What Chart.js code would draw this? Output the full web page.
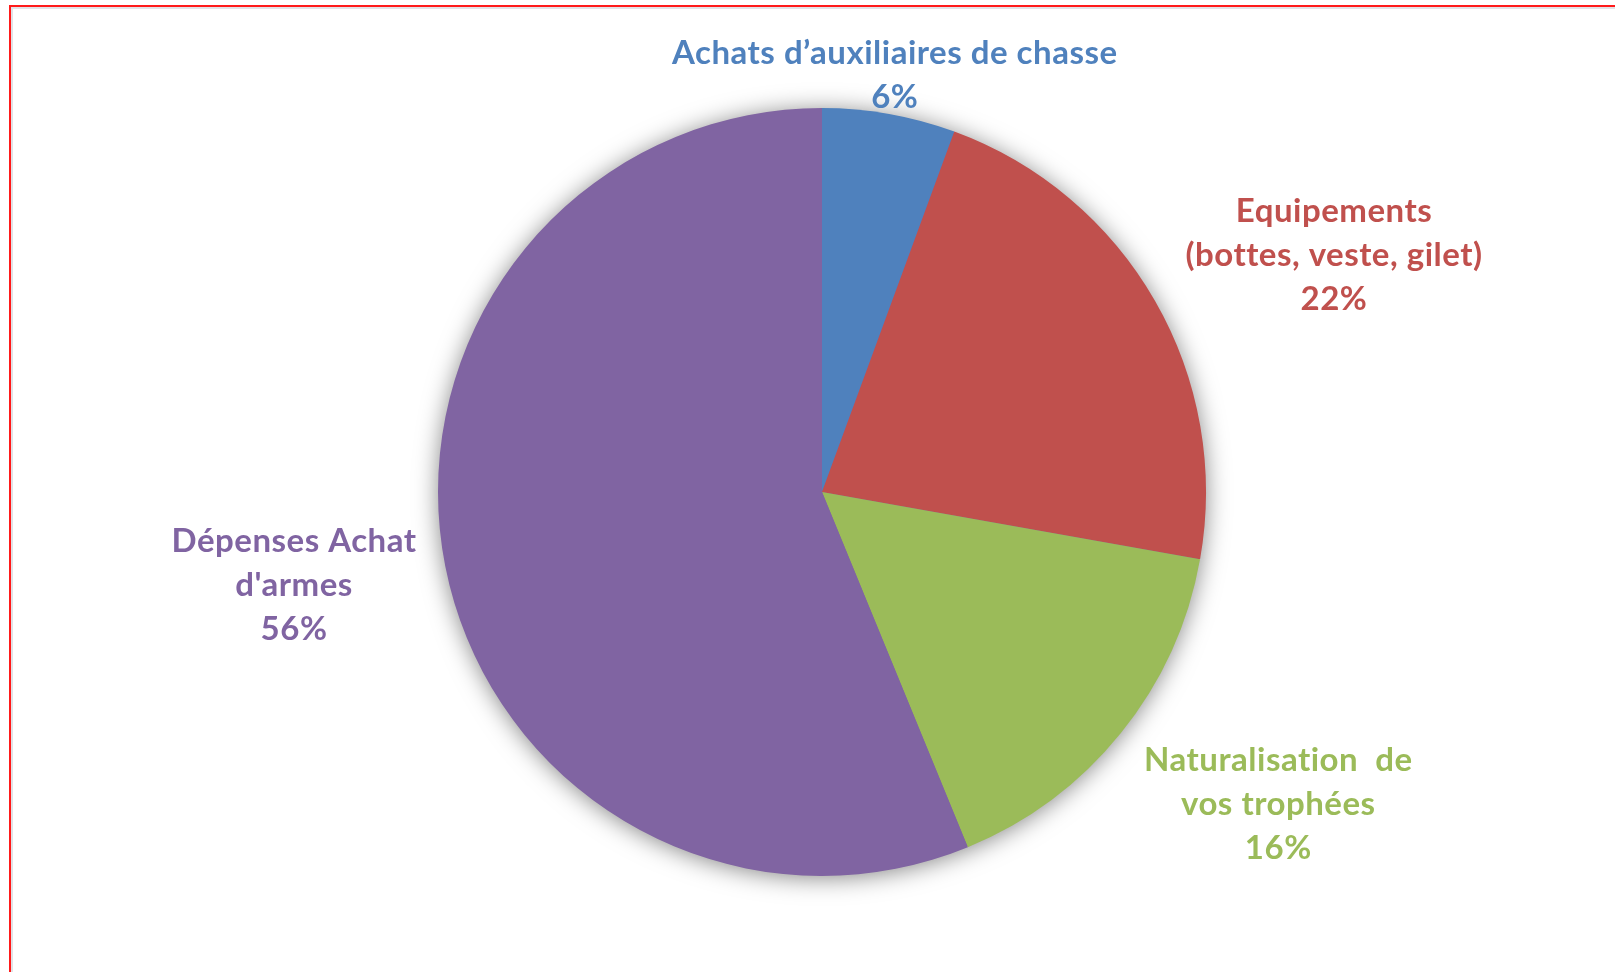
<!DOCTYPE html>
<html>
<head>
<meta charset="utf-8">
<script src="https://cdn.jsdelivr.net/npm/chart.js@4/dist/chart.umd.min.js"></script>
<style>
  html, body { margin: 0; padding: 0; background: #fff; overflow: hidden; width: 1615px; height: 972px; }
  #wrap { position: relative; width: 1615px; height: 972px; }
  #c { position: absolute; left: 0; top: 0; }
  #frame {
    position: absolute; left: 9px; top: 5px; width: 1700px; height: 1100px;
    border: 2px solid #ff1a1a; box-shadow: inset 2px 2px 0 #e2e2e6;
    pointer-events: none; box-sizing: border-box;
  }
</style>
</head>
<body>
<div id="wrap">
  <canvas id="c" width="1615" height="972"></canvas>
  <div id="frame"></div>
</div>
<script>
// ---- data ----
const categories = [
  "Achats d\u2019auxiliaires de chasse",
  "Equipements\n(bottes, veste, gilet)",
  "Naturalisation  de\nvos trophées",
  "Dépenses Achat\nd'armes"
];
const values = [5.6, 22.2, 16.0, 56.2];
const colors = ["#4F81BD", "#C0504D", "#9BBB59", "#8064A2"];

// ---- label layout (relative to each slice's mid-angle) ----
const labelAngleShift = [0, 5.75, -3.8, 0.3];
const labelRadiusFactor = [1.083, 1.461, 1.452, 1.40];

const shadowPlugin = {
  id: 'pieShadow',
  beforeDatasetsDraw(chart) {
    const arc = chart.getDatasetMeta(0).data[0];
    if (!arc) return;
    const ctx = chart.ctx;
    ctx.save();
    ctx.shadowColor = 'rgba(0,0,0,0.5)';
    ctx.shadowBlur = 24;
    ctx.shadowOffsetX = 0;
    ctx.shadowOffsetY = 2;
    ctx.beginPath();
    ctx.arc(arc.x, arc.y, arc.outerRadius - 1, 0, Math.PI * 2);
    ctx.fillStyle = '#8064A2';
    ctx.fill();
    ctx.restore();
  }
};

const labelPlugin = {
  id: 'outerLabels',
  afterDatasetsDraw(chart, args, opts) {
    const meta = chart.getDatasetMeta(0);
    const ctx = chart.ctx;
    const total = values.reduce((a, b) => a + b, 0);
    const lh = opts.lineHeight;
    ctx.save();
    ctx.font = opts.font;
    if ('letterSpacing' in ctx) ctx.letterSpacing = opts.letterSpacing;
    ctx.textAlign = 'center';
    ctx.textBaseline = 'alphabetic';
    meta.data.forEach((arc, i) => {
      const mid = (arc.startAngle + arc.endAngle) / 2 + labelAngleShift[i] * Math.PI / 180;
      const r = arc.outerRadius * labelRadiusFactor[i];
      const cx = arc.x + Math.cos(mid) * r;
      const cy = arc.y + Math.sin(mid) * r + opts.baselineShift;
      const lines = categories[i].split('\n');
      lines.push(Math.round(values[i] / total * 100) + '%');
      const n = lines.length;
      ctx.fillStyle = colors[i];
      lines.forEach((t, k) => {
        ctx.fillText(t, cx, cy + (k - (n - 1) / 2) * lh);
      });
    });
    ctx.restore();
  }
};

new Chart(document.getElementById('c'), {
  type: 'pie',
  data: {
    labels: categories,
    datasets: [{
      data: values,
      backgroundColor: colors,
      borderWidth: 0
    }]
  },
  options: {
    responsive: false,
    animation: false,
    devicePixelRatio: 1,
    layout: { padding: { left: 438, right: 409, top: 108, bottom: 96 } },
    plugins: {
      legend: { display: false },
      tooltip: { enabled: false },
      outerLabels: { font: 'bold 33px Lato', lineHeight: 44, letterSpacing: '0.5px', baselineShift: 3 }
    }
  },
  plugins: [shadowPlugin, labelPlugin]
});
</script>
</body>
</html>
